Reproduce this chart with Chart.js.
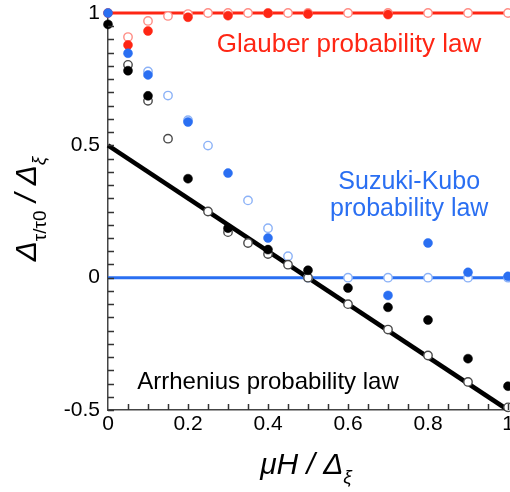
<!DOCTYPE html>
<html>
<head>
<meta charset="utf-8">
<script src="https://cdn.jsdelivr.net/npm/chart.js@4.4.1/dist/chart.umd.min.js"></script>
<style>
  html, body { margin: 0; padding: 0; background: #fff; }
  #wrap { width: 510px; height: 492px; position: relative; }
</style>
</head>
<body>
<div id="wrap"><canvas id="chart"></canvas></div>
<script>
// law lines (x from 0 to 1)
const lawX = [0, 1];
const glauberLine = [1, 1];
const suzukiLine = [0, 0];
const arrheniusLine = [0.5, -0.5];

// Glauber (red)
const redFilledX = [0, 0.05, 0.1, 0.2, 0.3, 0.4, 0.5, 0.7];
const redFilledY = [1.0, 0.879, 0.932, 0.984, 0.99, 0.999, 0.996, 0.994];
const redOpenX = [0.05, 0.1, 0.15, 0.2, 0.25, 0.3, 0.35, 0.4, 0.45, 0.5, 0.6, 0.7, 0.8, 0.9, 1.0];
const redOpenY = [0.909, 0.970, 0.989, 0.996, 1.0, 1.0, 1.0, 1.0, 1.0, 1.0, 1.0, 1.0, 1.0, 1.0, 1.0];

// Suzuki-Kubo (blue)
const blueFilledX = [0, 0.05, 0.1, 0.2, 0.3, 0.4, 0.7, 0.8, 0.9, 1.0];
const blueFilledY = [1.0, 0.848, 0.766, 0.588, 0.395, 0.150, -0.067, 0.131, 0.02, 0.005];
const blueOpenX = [0.1, 0.15, 0.2, 0.25, 0.35, 0.4, 0.45, 0.5, 0.6, 0.7, 0.8, 0.9, 1.0];
const blueOpenY = [0.779, 0.688, 0.595, 0.499, 0.292, 0.187, 0.081, 0, 0, 0, 0, 0, 0];

// Arrhenius (black)
const blackFilledX = [0, 0.05, 0.1, 0.2, 0.3, 0.4, 0.5, 0.6, 0.7, 0.8, 0.9, 1.0];
const blackFilledY = [0.957, 0.782, 0.687, 0.374, 0.187, 0.106, 0.028, -0.039, -0.112, -0.16, -0.306, -0.41];
const blackOpenX = [0.05, 0.1, 0.15, 0.25, 0.3, 0.35, 0.4, 0.45, 0.5, 0.6, 0.7, 0.8, 0.9, 1.0];
const blackOpenY = [0.804, 0.668, 0.525, 0.25, 0.172, 0.131, 0.089, 0.049, 0.0, -0.1, -0.196, -0.294, -0.394, -0.49];

// axis ticks
const xTickStep = 0.2;
const yTickStep = 0.5;
const minorStep = 0.05;

const RED = "#fe2614";
const RED_LIGHT = "#ff8c84";
const BLUE = "#2a6ff2";
const BLUE_LIGHT = "#8cb2f7";
const FONT = "'Liberation Sans', Arial, Helvetica, sans-serif";

const lawLabels = [
  { lines: ["Glauber probability law"], x: 0.6025, y: 0.853, size: 26, color: RED },
  { lines: ["Suzuki-Kubo", "probability law"], x: 0.753, y: 0.335, size: 25, color: BLUE },
  { lines: ["Arrhenius probability law"], x: 0.4, y: -0.42, size: 24, color: "#000" }
];

function toPoints(xs, ys) {
  return xs.map((x, i) => ({ x: x, y: ys[i] }));
}

function fmtTick(v) {
  return String(Math.round(v * 10) / 10);
}

function lineSet(ys, color, width, order) {
  return {
    data: toPoints(lawX, ys),
    showLine: true,
    borderColor: color,
    borderWidth: width,
    pointRadius: 0,
    clip: false,
    order: order
  };
}

function dotSet(xs, ys, color, order) {
  return {
    data: toPoints(xs, ys),
    showLine: false,
    pointRadius: 4.5,
    pointBackgroundColor: color,
    pointBorderColor: color,
    pointBorderWidth: 0.5,
    clip: false,
    order: order
  };
}

function ringSet(xs, ys, color, order) {
  return {
    data: toPoints(xs, ys),
    showLine: false,
    pointRadius: 4.2,
    pointBackgroundColor: "#fff",
    pointBorderColor: color,
    pointBorderWidth: 1.4,
    clip: false,
    order: order
  };
}

// draws a run of text pieces (some lowered as subscripts) on one baseline
function drawRich(ctx, pieces) {
  let total = 0;
  pieces.forEach(p => {
    ctx.font = p.font;
    p.w = ctx.measureText(p.text).width;
    total += p.w;
  });
  let cx = -total / 2;
  pieces.forEach(p => {
    ctx.font = p.font;
    ctx.fillText(p.text, cx, p.dy || 0);
    cx += p.w;
  });
}

const overlayPlugin = {
  id: "overlay",
  afterDraw(chart) {
    const ctx = chart.ctx;
    const xs = chart.scales.x;
    const ys = chart.scales.y;
    const area = chart.chartArea;

    // inward minor ticks
    ctx.save();
    ctx.strokeStyle = "#333";
    ctx.lineWidth = 1.5;
    ctx.beginPath();
    for (let i = 1; i <= Math.round((xs.max - xs.min) / minorStep); i++) {
      const px = Math.round(xs.getPixelForValue(xs.min + i * minorStep)) + 0.5;
      ctx.moveTo(px, area.bottom);
      ctx.lineTo(px, area.bottom - 6);
    }
    for (let i = 0; i < Math.round((ys.max - ys.min) / minorStep); i++) {
      const py = Math.round(ys.getPixelForValue(ys.min + i * minorStep)) + 0.5;
      ctx.moveTo(area.left, py);
      ctx.lineTo(area.left + 6, py);
    }
    ctx.stroke();
    ctx.restore();

    // law labels
    ctx.save();
    ctx.textAlign = "center";
    ctx.textBaseline = "alphabetic";
    lawLabels.forEach(l => {
      ctx.font = l.size + "px " + FONT;
      ctx.fillStyle = l.color;
      const px = xs.getPixelForValue(l.x);
      const py = ys.getPixelForValue(l.y);
      l.lines.forEach((t, i) => ctx.fillText(t, px, py + i * 27));
    });
    ctx.restore();

    // axis titles
    const big = "italic 30px " + FONT;
    const small = "italic 19px " + FONT;

    ctx.save();
    ctx.fillStyle = "#000";
    ctx.textAlign = "left";
    ctx.textBaseline = "alphabetic";
    ctx.translate((area.left + area.right) / 2 - 2, 474);
    drawRich(ctx, [
      { text: "\u03bcH / \u0394", font: big },
      { text: "\u03be", font: small, dy: 9 }
    ]);
    ctx.restore();

    ctx.save();
    ctx.fillStyle = "#000";
    ctx.textAlign = "left";
    ctx.textBaseline = "alphabetic";
    ctx.translate(36, 209);
    ctx.rotate(-Math.PI / 2);
    drawRich(ctx, [
      { text: "\u0394", font: big },
      { text: "\u03c4/\u03c40", font: "19px " + FONT, dy: 10 },
      { text: " / \u0394", font: big },
      { text: "\u03be", font: small, dy: 9 }
    ]);
    ctx.restore();
  }
};

new Chart(document.getElementById("chart"), {
  type: "scatter",
  data: {
    datasets: [
      lineSet(glauberLine, RED, 3, 30),
      lineSet(suzukiLine, BLUE, 3, 29),
      lineSet(arrheniusLine, "#000", 4.5, 28),
      ringSet(redOpenX, redOpenY, RED_LIGHT, 20),
      ringSet(blueOpenX, blueOpenY, BLUE_LIGHT, 19),
      ringSet(blackOpenX, blackOpenY, "#4a4a4a", 18),
      dotSet(redFilledX, redFilledY, RED, 12),
      dotSet(blackFilledX, blackFilledY, "#000", 11),
      dotSet(blueFilledX, blueFilledY, BLUE, 10)
    ]
  },
  options: {
    responsive: true,
    maintainAspectRatio: false,
    animation: false,
    layout: { autoPadding: false, padding: { top: 13, right: 2, left: 0, bottom: 0 } },
    plugins: {
      legend: { display: false },
      tooltip: { enabled: false }
    },
    scales: {
      x: {
        type: "linear",
        min: 0,
        max: 1,
        grid: { display: true, drawOnChartArea: false, drawTicks: false },
        border: { display: true, color: "#444", width: 1.5 },
        ticks: {
          stepSize: xTickStep,
          padding: 2,
          color: "#000",
          font: { family: FONT, size: 21 },
          callback: fmtTick
        },
        afterFit(scale) {
          scale.height = 82;
          scale.paddingLeft = 0;
          scale.paddingRight = 0;
        }
      },
      y: {
        type: "linear",
        min: -0.5,
        max: 1,
        grid: { display: true, drawOnChartArea: false, drawTicks: false },
        border: { display: true, color: "#444", width: 1.5 },
        ticks: {
          stepSize: yTickStep,
          padding: 8,
          color: "#000",
          font: { family: FONT, size: 21 },
          callback: fmtTick
        },
        afterFit(scale) {
          scale.width = 108;
          scale.paddingTop = 0;
          scale.paddingBottom = 0;
        }
      }
    }
  },
  plugins: [overlayPlugin]
});
</script>
</body>
</html>
